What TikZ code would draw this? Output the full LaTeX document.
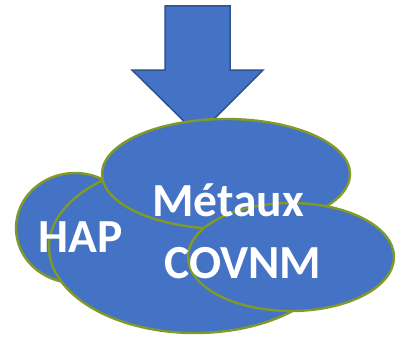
\documentclass[tikz,border=0pt]{standalone}
\usepackage{fontspec}
\setmainfont{Carlito}
\usetikzlibrary{shapes.geometric}
\definecolor{blob}{RGB}{68,114,196}
\definecolor{blobline}{RGB}{128,154,40}
\definecolor{arrowline}{RGB}{47,82,143}
\begin{document}
\begin{tikzpicture}[x=1pt,y=-1pt,
pollutant/.style={
	ellipse,inner sep=0pt,
	fill=blob,draw=blobline,line width=2.4pt},
inflow/.style={fill=blob,draw=arrowline,line width=1.5pt,line join=miter},
tag/.style={text=white,font=\fontsize{47.5}{50}\selectfont\bfseries,inner sep=0pt}
]
\useasboundingbox (0,0) rectangle (395,337);
% arrow coming down from the top
\draw[inflow] (165,6) -- (230,6) -- (230,70) -- (263,70) -- (198,135)
	-- (132,70) -- (165,70) -- cycle;
% the cloud, back to front
\node[pollutant,minimum width=118pt,minimum height=110pt] (hap) at (75,228) {};
\node[pollutant,minimum width=292pt,minimum height=172pt] (big) at (195,247) {};
\node[pollutant,minimum width=248pt,minimum height=110pt] (metaux) at (226,174) {};
\node[pollutant,minimum width=206pt,minimum height=108pt] (covnm) at (291,257) {};
% labels
\node[tag] (metauxtext) at (228,200) {Métaux};
\node[tag] (haptext) at (81,237) {HAP};
\node[tag] (covnmtext) at (243,263) {COVNM};
\end{tikzpicture}
\end{document}
